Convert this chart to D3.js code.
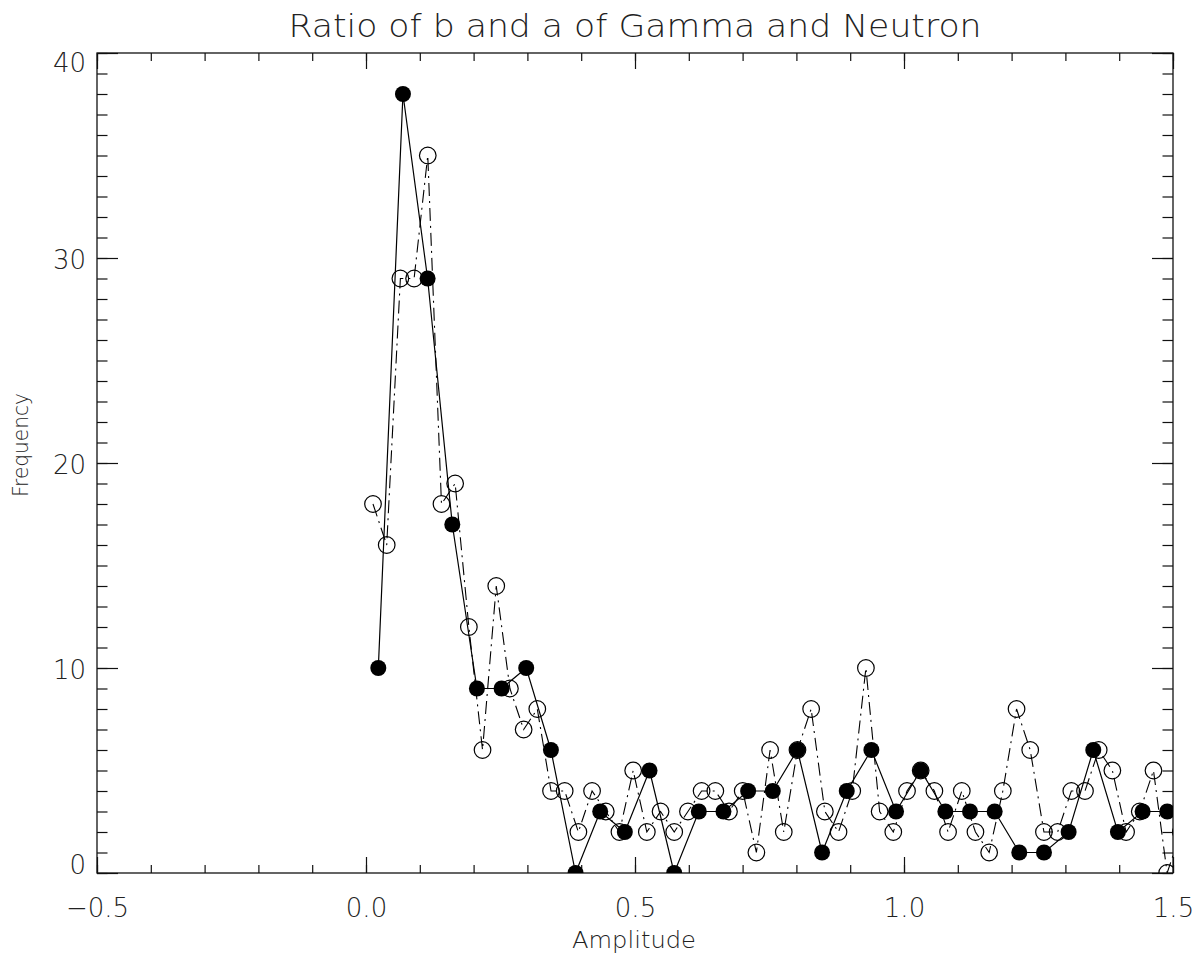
<!DOCTYPE html>
<html>
<head>
<meta charset="utf-8">
<script src="https://cdn.jsdelivr.net/npm/d3@7"></script>
<style>
  html, body { margin: 0; padding: 0; background: #fff; }
  text { font-family: "DejaVu Sans ExtraLight", "DejaVu Sans", sans-serif; font-weight: 200; fill: #222; }
</style>
</head>
<body>
<div id="chart"></div>
<script>
"use strict";

// Gamma: filled circles, solid line
var gammaX = [0.0229, 0.0687, 0.1145, 0.1604, 0.2062, 0.2520, 0.2978, 0.3437, 0.3895, 0.4353,
              0.4811, 0.5270, 0.5728, 0.6186, 0.6644, 0.7103, 0.7561, 0.8019, 0.8477, 0.8936,
              0.9394, 0.9852, 1.0310, 1.0769, 1.1227, 1.1685, 1.2143, 1.2602, 1.3060, 1.3518,
              1.3976, 1.4435, 1.4893, 1.5351];
var gammaY = [10, 38, 29, 17, 9, 9, 10, 6, 0, 3,
              2, 5, 0, 3, 3, 4, 4, 6, 1, 4,
              6, 3, 5, 3, 3, 3, 1, 1, 2, 6,
              2, 3, 3, 3];

// Neutron: open circles, dash-dot line
var neutronX = [0.0130, 0.0385, 0.0639, 0.0894, 0.1148, 0.1403, 0.1657, 0.1912, 0.2166, 0.2421,
                0.2675, 0.2930, 0.3184, 0.3439, 0.3693, 0.3948, 0.4202, 0.4457, 0.4711, 0.4966,
                0.5220, 0.5475, 0.5729, 0.5984, 0.6238, 0.6493, 0.6747, 0.7002, 0.7256, 0.7511,
                0.7765, 0.8020, 0.8274, 0.8529, 0.8783, 0.9038, 0.9292, 0.9547, 0.9801, 1.0056,
                1.0310, 1.0565, 1.0819, 1.1074, 1.1328, 1.1583, 1.1837, 1.2092, 1.2346, 1.2601,
                1.2855, 1.3110, 1.3364, 1.3619, 1.3873, 1.4128, 1.4382, 1.4637, 1.4891, 1.5146];
var neutronY = [18, 16, 29, 29, 35, 18, 19, 12, 6, 14,
                9, 7, 8, 4, 4, 2, 4, 3, 2, 5,
                2, 3, 2, 3, 4, 4, 3, 4, 1, 6,
                2, 6, 8, 3, 2, 4, 10, 3, 2, 4,
                5, 4, 2, 4, 2, 1, 4, 8, 6, 2,
                2, 4, 4, 6, 5, 2, 3, 5, 0, 2];

var xMajorTicks = [-0.5, 0.0, 0.5, 1.0, 1.5];
var yMajorTicks = [0, 10, 20, 30, 40];

var titleText = "Ratio of b and a of Gamma and Neutron";
var xTitle = "Amplitude";
var yTitle = "Frequency";

var margin = { top: 53, right: 28, bottom: 86, left: 97 };
var width = 1201 - margin.left - margin.right;   // 1076
var height = 959 - margin.top - margin.bottom;   // 820

var svg = d3.select("#chart").append("svg")
    .attr("width", 1201)
    .attr("height", 959);

var g = svg.append("g")
    .attr("transform", "translate(" + margin.left + "," + margin.top + ")");

var xScale = d3.scaleLinear().domain([-0.5, 1.5]).range([0, width]);
var yScale = d3.scaleLinear().domain([0, 40]).range([height, 0]);

// clip
svg.append("defs").append("clipPath").attr("id", "plotclip")
    .append("rect").attr("x", 0).attr("y", 0).attr("width", width).attr("height", height);

// -------------------- axes (ticks on all four sides, pointing in) --------------------
function styleAxis(sel) {
    sel.select(".domain").remove();
    sel.selectAll("line").attr("stroke", "#111").attr("stroke-width", 1.2);
    sel.selectAll("text").style("font-size", "26px").attr("fill", "#222");
}

var fmtX = d3.format(".1f");

var xMinor = xScale.ticks(20);
var yMinor = yScale.ticks(40);

// bottom
g.append("g").attr("transform", "translate(0," + height + ")")
    .call(d3.axisBottom(xScale).tickValues(xMinor).tickSize(-8).tickFormat(""))
    .call(styleAxis);
g.append("g").attr("class", "xaxis").attr("transform", "translate(0," + height + ")")
    .call(d3.axisBottom(xScale).tickValues(xMajorTicks).tickSize(-16).tickPadding(26).tickFormat(fmtX))
    .call(styleAxis);
// top
g.append("g")
    .call(d3.axisTop(xScale).tickValues(xMinor).tickSize(-8).tickFormat(""))
    .call(styleAxis);
g.append("g")
    .call(d3.axisTop(xScale).tickValues(xMajorTicks).tickSize(-16).tickFormat(""))
    .call(styleAxis);
// left
g.append("g")
    .call(d3.axisLeft(yScale).tickValues(yMinor).tickSize(-10.5).tickFormat(""))
    .call(styleAxis);
g.append("g").attr("class", "yaxis")
    .call(d3.axisLeft(yScale).tickValues(yMajorTicks).tickSize(-21).tickPadding(11).tickFormat(d3.format("d")))
    .call(styleAxis);
// right
g.append("g").attr("transform", "translate(" + width + ",0)")
    .call(d3.axisRight(yScale).tickValues(yMinor).tickSize(-10.5).tickFormat(""))
    .call(styleAxis);
g.append("g").attr("transform", "translate(" + width + ",0)")
    .call(d3.axisRight(yScale).tickValues(yMajorTicks).tickSize(-21).tickFormat(""))
    .call(styleAxis);

g.select(".xaxis").selectAll("text").attr("dy", "0.71em");
// end labels sit inside the axis range, as in the original
g.select(".yaxis").selectAll("text")
    .attr("dy", function (d) { return d === 0 ? "0" : (d === 40 ? "0.72em" : "0.4em"); });

// box
g.append("rect")
    .attr("x", 0).attr("y", 0).attr("width", width).attr("height", height)
    .attr("fill", "none").attr("stroke", "#111").attr("stroke-width", 1.3);

// -------------------- data --------------------
var plot = g.append("g").attr("clip-path", "url(#plotclip)");

var neutron = neutronX.map(function (d, i) { return [d, neutronY[i]]; });
var gamma = gammaX.map(function (d, i) { return [d, gammaY[i]]; });

var line = d3.line()
    .x(function (d) { return xScale(d[0]); })
    .y(function (d) { return yScale(d[1]); });

plot.append("path")
    .datum(neutron)
    .attr("d", line)
    .attr("fill", "none")
    .attr("stroke", "#000")
    .attr("stroke-width", 1.1)
    .attr("stroke-dasharray", "13,5,2,5");

plot.selectAll("circle.neutron")
    .data(neutron)
    .enter().append("circle")
    .attr("class", "neutron")
    .attr("cx", function (d) { return xScale(d[0]); })
    .attr("cy", function (d) { return yScale(d[1]); })
    .attr("r", 8.3)
    .attr("fill", "none")
    .attr("stroke", "#000")
    .attr("stroke-width", 1.2);

plot.append("path")
    .datum(gamma)
    .attr("d", line)
    .attr("fill", "none")
    .attr("stroke", "#000")
    .attr("stroke-width", 1.2);

plot.selectAll("circle.gamma")
    .data(gamma)
    .enter().append("circle")
    .attr("class", "gamma")
    .attr("cx", function (d) { return xScale(d[0]); })
    .attr("cy", function (d) { return yScale(d[1]); })
    .attr("r", 8)
    .attr("fill", "#000");

// -------------------- titles --------------------
svg.append("text")
    .attr("x", margin.left + width / 2)
    .attr("y", 37)
    .attr("text-anchor", "middle")
    .style("font-size", "32px")
    .attr("textLength", 693)
    .attr("lengthAdjust", "spacingAndGlyphs")
    .text(titleText);

svg.append("text")
    .attr("x", 634)
    .attr("y", 948)
    .attr("text-anchor", "middle")
    .style("font-size", "23px")
    .attr("textLength", 124)
    .attr("lengthAdjust", "spacingAndGlyphs")
    .text(xTitle);

svg.append("text")
    .attr("transform", "translate(28,445)rotate(-90)")
    .attr("text-anchor", "middle")
    .style("font-size", "22px")
    .attr("textLength", 104)
    .attr("lengthAdjust", "spacingAndGlyphs")
    .text(yTitle);
</script>
</body>
</html>
